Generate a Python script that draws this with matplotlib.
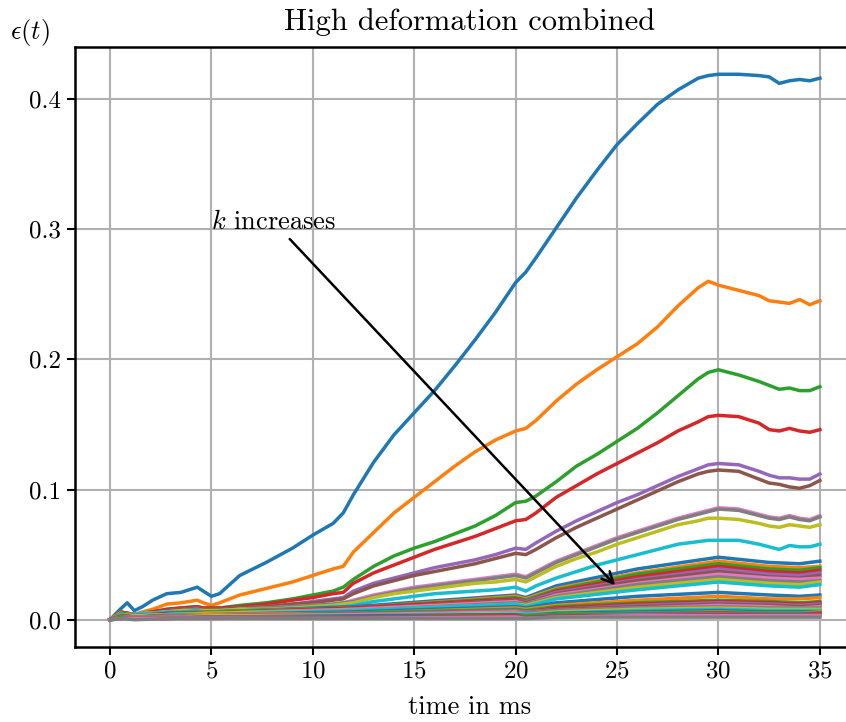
import matplotlib
matplotlib.use("Agg")
import matplotlib.pyplot as plt
import numpy as np

plt.rcParams['font.family'] = 'serif'
plt.rcParams['font.serif'] = ['cmr10']
plt.rcParams['mathtext.fontset'] = 'cm'
plt.rcParams['axes.formatter.use_mathtext'] = True

# time grid (ms) for the ten largest curves
t_top = [0, 0.5, 0.85, 1.2, 1.6, 2.1, 2.8, 3.5, 4.3, 4.6, 5.0, 5.4, 6.4, 7.7, 9, 10, 11, 11.5,
         12, 13, 14, 15, 16, 17, 18, 19, 20, 20.5, 21, 22, 23, 24, 25, 26, 27, 28, 29, 29.5,
         30, 31, 32, 32.5, 33, 33.5, 34, 34.5, 35]

eps_k1 = [0, .008, .013, .007, .010, .015, .020, .021, .025, .022, .018, .020, .034, .044, .055, .065, .074, .082,
          .096, .121, .142, .159, .176, .195, .215, .236, .259, .267, .278, .301, .324, .345, .365, .381, .396, .407, .416, .418,
          .419, .419, .418, .417, .412, .414, .415, .414, .416]
eps_k2 = [0, .006, .005, .004, .006, .008, .012, .013, .015, .013, .011, .013, .019, .024, .029, .034, .039, .041,
          .052, .067, .082, .094, .106, .118, .129, .138, .145, .147, .153, .168, .181, .192, .202, .212, .225, .241, .255, .260,
          .257, .253, .249, .245, .244, .243, .246, .242, .245]
eps_k3 = [0, .006, .005, .004, .005, .006, .008, .009, .010, .009, .009, .009, .011, .013, .016, .019, .022, .025,
          .031, .041, .049, .055, .060, .066, .072, .080, .090, .091, .095, .106, .118, .127, .137, .147, .159, .172, .185, .190,
          .192, .188, .183, .180, .177, .178, .176, .176, .179]
eps_k4 = [0, .006, .005, .004, .005, .006, .008, .009, .010, .009, .009, .009, .010, .012, .015, .017, .020, .021,
          .028, .036, .042, .048, .054, .059, .064, .070, .076, .077, .082, .094, .103, .112, .120, .128, .136, .145, .152, .156,
          .157, .156, .151, .146, .145, .147, .145, .144, .146]
eps_k5 = [0, .005, .004, .004, .005, .005, .007, .008, .009, .008, .008, .008, .009, .010, .012, .014, .016, .017,
          .022, .028, .032, .036, .040, .043, .046, .050, .055, .054, .059, .068, .076, .083, .090, .096, .103, .110, .116, .119,
          .120, .119, .114, .111, .109, .109, .108, .108, .112]
eps_k6 = [0, .005, .004, .004, .005, .005, .007, .008, .009, .008, .008, .008, .009, .010, .012, .013, .015, .016,
          .020, .026, .030, .034, .037, .040, .043, .047, .051, .050, .054, .063, .071, .078, .085, .092, .099, .106, .112, .114,
          .115, .114, .108, .105, .104, .102, .101, .103, .107]
eps_k7 = [0, .005, .004, .004, .005, .005, .006, .007, .008, .007, .007, .007, .008, .009, .010, .011, .012, .013,
          .015, .019, .022, .025, .027, .029, .031, .033, .035, .033, .037, .045, .051, .057, .063, .068, .073, .078, .082, .084,
          .086, .085, .081, .079, .078, .080, .078, .077, .080]
eps_k8 = [0, .005, .004, .004, .005, .005, .006, .007, .008, .007, .007, .007, .008, .009, .010, .011, .012, .013,
          .014, .018, .021, .024, .026, .028, .030, .032, .034, .032, .036, .044, .050, .056, .062, .067, .072, .077, .081, .083,
          .085, .084, .080, .078, .077, .079, .077, .076, .079]
eps_k9 = [0, .005, .004, .004, .005, .005, .006, .007, .007, .007, .007, .007, .008, .008, .009, .010, .011, .012,
          .013, .017, .020, .022, .024, .026, .028, .029, .031, .029, .033, .041, .047, .052, .058, .063, .068, .073, .076, .078,
          .078, .077, .074, .072, .071, .073, .072, .071, .073]
eps_k10 = [0, .004, .003, .004, .005, .005, .006, .006, .007, .006, .006, .006, .007, .007, .008, .009, .010, .010,
           .011, .014, .016, .018, .020, .021, .022, .023, .025, .022, .026, .032, .037, .042, .046, .050, .054, .058, .060, .061,
           .061, .061, .058, .056, .054, .057, .056, .056, .058]

top_series = [eps_k1, eps_k2, eps_k3, eps_k4, eps_k5, eps_k6, eps_k7, eps_k8, eps_k9, eps_k10]

# coarser time grid for the remaining (small) curves
t_low = [0, 0.6, 1.2, 3, 5, 12, 20, 20.5, 22, 26, 30, 32.5, 34, 35]
low_series = [
    [0, .005, .003, .005, .006, .010, .019, .017, .026, .039, .048, .044, .043, .045],
    [0, .005, .003, .005, .006, .009, .018, .016, .024, .036, .045, .041, .040, .041],
    [0, .005, .003, .005, .006, .009, .017, .015, .023, .035, .043, .039, .038, .040],
    [0, .004, .003, .005, .005, .009, .016, .014, .022, .033, .041, .037, .036, .038],
    [0, .004, .003, .004, .005, .008, .015, .014, .021, .031, .039, .035, .034, .036],
    [0, .004, .003, .004, .005, .008, .015, .013, .020, .030, .037, .033, .032, .034],
    [0, .004, .003, .004, .005, .008, .014, .012, .019, .028, .035, .032, .031, .032],
    [0, .004, .003, .004, .005, .007, .013, .012, .018, .027, .033, .030, .029, .030],
    [0, .004, .003, .004, .005, .007, .012, .011, .017, .025, .031, .028, .027, .029],
    [0, .004, .002, .004, .004, .007, .012, .010, .016, .023, .029, .026, .025, .027],
    [0, .003, .002, .003, .004, .006, .010, .009, .013, .018, .021, .019, .018, .019],
    [0, .003, .002, .003, .004, .005, .009, .008, .011, .015, .018, .016, .016, .017],
    [0, .003, .002, .003, .003, .005, .008, .007, .010, .013, .015, .014, .013, .014],
    [0, .003, .002, .003, .003, .004, .007, .006, .009, .012, .014, .013, .012, .013],
    [0, .003, .002, .003, .003, .004, .007, .006, .008, .011, .013, .012, .011, .012],
    [0, .003, .002, .002, .003, .004, .006, .005, .008, .010, .012, .011, .010, .011],
    [0, .002, .002, .002, .003, .004, .006, .005, .007, .009, .011, .010, .009, .010],
    [0, .002, .002, .002, .003, .003, .005, .005, .007, .009, .010, .009, .009, .009],
    [0, .002, .001, .002, .003, .003, .005, .004, .006, .008, .009, .008, .008, .008],
    [0, .002, .001, .002, .002, .003, .004, .004, .005, .007, .008, .007, .007, .007],
    [0, .002, .001, .002, .002, .003, .004, .003, .005, .006, .007, .006, .006, .006],
    [0, .002, .001, .002, .002, .002, .003, .003, .004, .005, .006, .005, .005, .006],
    [0, .002, .001, .001, .002, .002, .003, .003, .004, .005, .0055, .005, .005, .005],
    [0, .001, .001, .001, .002, .002, .003, .002, .003, .004, .005, .004, .004, .005],
    [0, .001, .001, .001, .002, .002, .002, .002, .003, .004, .0045, .004, .004, .004],
    [0, .001, .001, .001, .001, .002, .002, .002, .003, .003, .004, .0035, .0035, .0035],
    [0, .001, .001, .001, .001, .001, .002, .001, .002, .003, .003, .003, .003, .003],
    [0, .001, .000, .001, .001, .001, .001, .001, .002, .002, .002, .002, .002, .002],
]

title = "High deformation combined"
xlabel = "time in ms"
ylabel = r"$\epsilon(t)$"
annot_text = r"$k$ increases"

fig = plt.figure(figsize=(8.46, 7.22), dpi=100)
ax = fig.add_axes([74.5/846, 75/722, 790/846, 600/722])

for s in top_series:
    ax.plot(t_top, s, lw=2.5)
for s in low_series:
    ax.plot(t_low, s, lw=2.5)

ax.set_xlim(-1.75, 37.2)
ax.grid(True, color='#b0b0b0', lw=1.5)
ax.set_axisbelow(True)
ax.set_xticks([0, 5, 10, 15, 20, 25, 30, 35])
ax.set_yticks([0.0, 0.1, 0.2, 0.3, 0.4])
ax.set_yticklabels(["0.0", "0.1", "0.2", "0.3", "0.4"])
ax.tick_params(labelsize=18, width=1.5, length=6)
for sp in ax.spines.values():
    sp.set_linewidth(1.8)

ax.set_title(title, fontsize=22, pad=12)
ax.set_xlabel(xlabel, fontsize=19, labelpad=9)
fig.text(30/846, 1 - 33/722, ylabel, fontsize=19, ha='center', va='center')

ax.annotate(annot_text, xy=(25, 0.025), xytext=(5, 0.3), fontsize=19,
            arrowprops=dict(arrowstyle='->', color='black', lw=1.8, mutation_scale=20))

fig.savefig("out.png", dpi=100)
